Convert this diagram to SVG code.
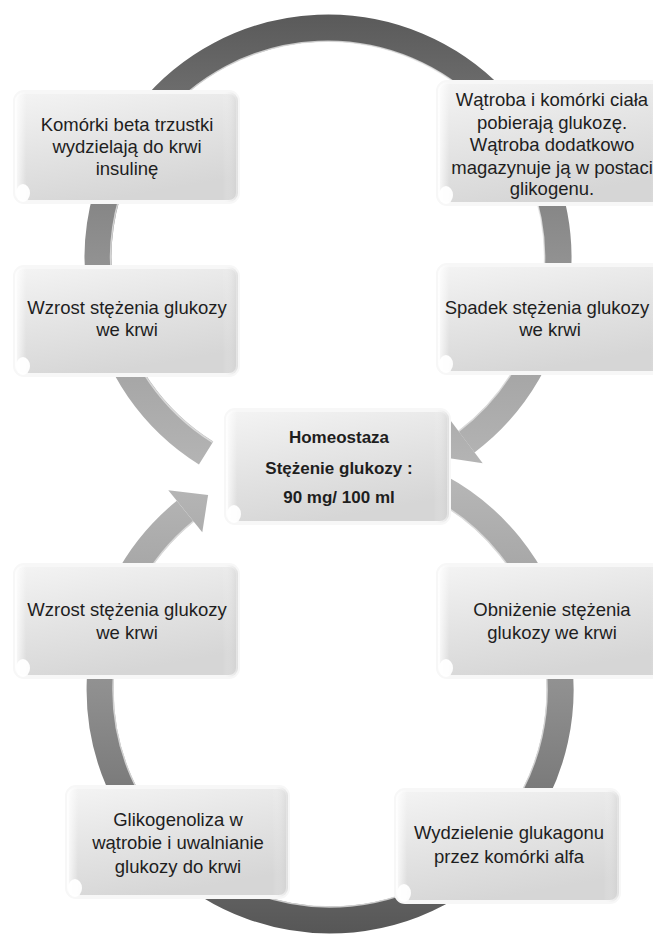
<svg xmlns="http://www.w3.org/2000/svg" width="653" height="938" viewBox="0 0 653 938">
<defs>
<linearGradient id="upGrad" gradientUnits="userSpaceOnUse" x1="0" y1="15" x2="0" y2="490">
<stop offset="0" stop-color="#5a5a5a"/>
<stop offset="0.35" stop-color="#828282"/>
<stop offset="0.7" stop-color="#a2a2a2"/>
<stop offset="1" stop-color="#b8b8b8"/>
</linearGradient>
<linearGradient id="lowGrad" gradientUnits="userSpaceOnUse" x1="0" y1="935" x2="0" y2="470">
<stop offset="0" stop-color="#565656"/>
<stop offset="0.35" stop-color="#7e7e7e"/>
<stop offset="0.7" stop-color="#a0a0a0"/>
<stop offset="1" stop-color="#b8b8b8"/>
</linearGradient>
<linearGradient id="boxGrad" x1="0" y1="0" x2="0.35" y2="1">
<stop offset="0" stop-color="#f4f4f4"/>
<stop offset="0.55" stop-color="#e3e3e3"/>
<stop offset="1" stop-color="#d6d6d6"/>
</linearGradient>
<linearGradient id="glossGrad" x1="0" y1="0" x2="1" y2="0">
<stop offset="0" stop-color="#ffffff" stop-opacity="0.9"/>
<stop offset="0.05" stop-color="#ffffff" stop-opacity="0"/>
<stop offset="0.93" stop-color="#ffffff" stop-opacity="0"/>
<stop offset="1" stop-color="#c8c8c8" stop-opacity="0.5"/>
</linearGradient>
</defs>
<style>
.band{fill:none;stroke-width:27}
.hl{fill:none;stroke:#e4e4e4;stroke-width:1.5;opacity:0.8}
.box{fill:url(#boxGrad);stroke:#f7f7f7;stroke-width:4}
.gloss{fill:url(#glossGrad)}
.curl{fill:#ffffff;opacity:0.95}
.t{font-family:"Liberation Sans",Arial,sans-serif;font-size:18.5px;fill:#1e1e1e;text-anchor:middle}
.tb{font-family:"Liberation Sans",Arial,sans-serif;font-size:17px;font-weight:bold;fill:#1e1e1e;text-anchor:middle}
</style>
<rect width="653" height="938" fill="#ffffff"/>
<g id="connectors">
<path class="band" stroke="url(#upGrad)" d="M 206.1 453 A 230 230 0 1 1 466.4 441.7"/>
<path class="hl" d="M 212.7 442.4 A 217 217 0 1 1 458.6 431.3"/>
<polygon fill="url(#upGrad)" points="450.2,420.1 482.7,463.2 443,457.2"/>
<path class="band" stroke="url(#lowGrad)" d="M 438 486.9 A 230 230 0 1 1 185.3 511.3"/>
<path class="hl" d="M 431.9 498.4 A 217 217 0 1 1 193.4 521.4"/>
<polygon fill="url(#lowGrad)" points="202.3,532.2 168.3,490.3 208.1,494.9"/>
</g>
<g id="node-beta">
<rect class="box" x="15" y="92" width="223" height="110" rx="9"/>
<rect class="gloss" x="15" y="92" width="223" height="110" rx="9"/>
<ellipse class="curl" cx="23" cy="193" rx="7" ry="9"/>
<text class="t" x="127" y="131">Komórki beta trzustki</text>
<text class="t" x="127" y="153">wydzielają do krwi</text>
<text class="t" x="127" y="175">insulinę</text>
</g>
<g id="node-watroba">
<rect class="box" x="438" y="82" width="228" height="122" rx="9"/>
<rect class="gloss" x="438" y="82" width="228" height="122" rx="9"/>
<ellipse class="curl" cx="446" cy="195" rx="7" ry="9"/>
<text class="t" x="552" y="106">Wątroba i komórki ciała</text>
<text class="t" x="552" y="129">pobierają glukozę.</text>
<text class="t" x="552" y="151">Wątroba dodatkowo</text>
<text class="t" x="552" y="174">magazynuje ją w postaci</text>
<text class="t" x="552" y="195">glikogenu.</text>
</g>
<g id="node-wzrost1">
<rect class="box" x="15" y="267" width="223" height="108" rx="9"/>
<rect class="gloss" x="15" y="267" width="223" height="108" rx="9"/>
<ellipse class="curl" cx="23" cy="366" rx="7" ry="9"/>
<text class="t" x="127" y="314">Wzrost stężenia glukozy</text>
<text class="t" x="127" y="336">we krwi</text>
</g>
<g id="node-spadek">
<rect class="box" x="438" y="265" width="228" height="108" rx="9"/>
<rect class="gloss" x="438" y="265" width="228" height="108" rx="9"/>
<ellipse class="curl" cx="446" cy="364" rx="7" ry="9"/>
<text class="t" x="547" y="314">Spadek stężenia glukozy</text>
<text class="t" x="550" y="336">we krwi</text>
</g>
<g id="node-homeostaza">
<rect class="box" x="226" y="410" width="223" height="113" rx="9"/>
<rect class="gloss" x="226" y="410" width="223" height="113" rx="9"/>
<ellipse class="curl" cx="234" cy="514" rx="7" ry="9"/>
<text class="tb" x="339" y="443">Homeostaza</text>
<text class="tb" x="339" y="474">Stężenie glukozy :</text>
<text class="tb" x="339" y="503">90 mg/ 100 ml</text>
</g>
<g id="node-wzrost2">
<rect class="box" x="15" y="565" width="223" height="112" rx="9"/>
<rect class="gloss" x="15" y="565" width="223" height="112" rx="9"/>
<ellipse class="curl" cx="23" cy="668" rx="7" ry="9"/>
<text class="t" x="127" y="616">Wzrost stężenia glukozy</text>
<text class="t" x="127" y="639">we krwi</text>
</g>
<g id="node-obnizenie">
<rect class="box" x="438" y="565" width="228" height="112" rx="9"/>
<rect class="gloss" x="438" y="565" width="228" height="112" rx="9"/>
<ellipse class="curl" cx="446" cy="668" rx="7" ry="9"/>
<text class="t" x="552" y="616">Obniżenie stężenia</text>
<text class="t" x="552" y="639">glukozy we krwi</text>
</g>
<g id="node-glikogenoliza">
<rect class="box" x="67" y="787" width="221" height="110" rx="9"/>
<rect class="gloss" x="67" y="787" width="221" height="110" rx="9"/>
<ellipse class="curl" cx="75" cy="888" rx="7" ry="9"/>
<text class="t" x="178" y="826">Glikogenoliza w</text>
<text class="t" x="178" y="849">wątrobie i uwalnianie</text>
<text class="t" x="178" y="873">glukozy do krwi</text>
</g>
<g id="node-glukagon">
<rect class="box" x="396" y="790" width="223" height="112" rx="9"/>
<rect class="gloss" x="396" y="790" width="223" height="112" rx="9"/>
<ellipse class="curl" cx="404" cy="893" rx="7" ry="9"/>
<text class="t" x="509" y="839">Wydzielenie glukagonu</text>
<text class="t" x="509" y="863">przez komórki alfa</text>
</g>
</svg>
